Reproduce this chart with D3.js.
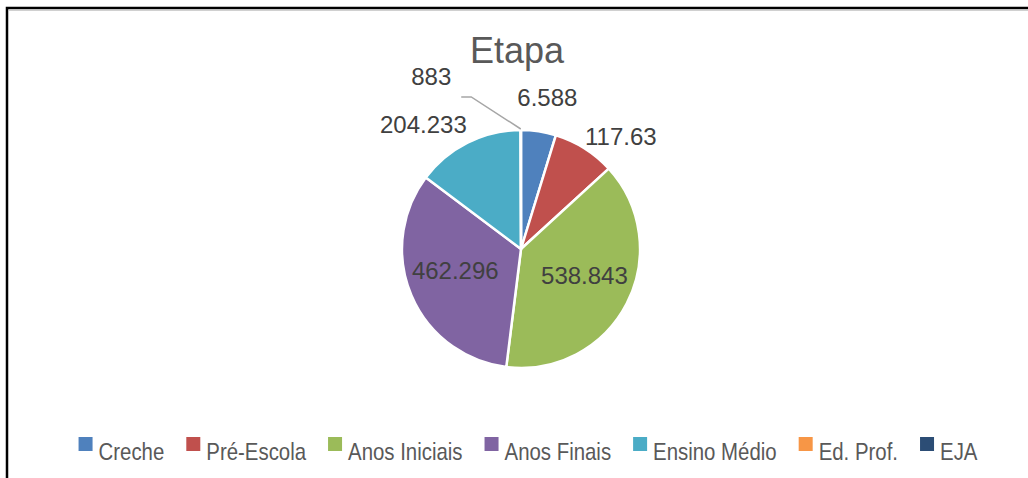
<!DOCTYPE html>
<html>
<head>
<meta charset="utf-8">
<script src="https://cdn.jsdelivr.net/npm/d3@7"></script>
<style>
  body { margin: 0; background: #fff; }
  text { font-family: "Liberation Sans", Arial, sans-serif; }
</style>
</head>
<body>
<div class="etapa"></div>
<script>
// data
var categories = ["Creche", "Pré-Escola", "Anos Iniciais", "Anos Finais", "Ensino Médio", "Ed. Prof.", "EJA"];
var values = [65880, 117630, 538843, 462296, 204233, 883, 0];
var valueLabels = ["6.588", "117.63", "538.843", "462.296", "204.233", "883", ""];
var colors = ["#4F81BD", "#C0504D", "#9BBB59", "#8064A2", "#4BACC6", "#F79646", "#2C4D75"];

var width = 1028, height = 478;
var cx = 521, cy = 249, radius = 119;

var svg = d3.select(".etapa")
    .append("svg")
    .attr("width", width)
    .attr("height", height);

// frame
svg.append("path")
    .attr("d", "M7," + height + "V8H" + width)
    .attr("fill", "none")
    .attr("stroke", "#000")
    .attr("stroke-width", 2.5);
svg.append("line")
    .attr("x1", 9).attr("x2", width).attr("y1", 10.5).attr("y2", 10.5)
    .attr("stroke", "#d0d0d0").attr("stroke-width", 1);

// title
svg.append("text")
    .attr("x", 517).attr("y", 63)
    .attr("text-anchor", "middle")
    .style("font-size", "36px")
    .style("fill", "#595959")
    .text("Etapa");

var data = categories.map(function(c, i) {
    return {name: c, value: values[i], label: valueLabels[i], color: colors[i]};
});
var total = d3.sum(values);

var pie = d3.pie().sort(null).value(function(d) { return d.value; });
var arcs = pie(data);
var arc = d3.arc().innerRadius(0).outerRadius(radius);

var g = svg.append("g").attr("transform", "translate(" + cx + "," + cy + ")");

// slices
g.selectAll("path.slice")
    .data(arcs.filter(function(d) { return d.data.value > 0; }))
    .enter().append("path")
    .attr("class", "slice")
    .attr("d", arc)
    .attr("fill", function(d) { return d.data.color; })
    .attr("stroke", "#fff")
    .attr("stroke-width", 2.5)
    .attr("stroke-linejoin", "round");

// labels
function polar(a, r) { return [Math.sin(a) * r, -Math.cos(a) * r]; }

arcs.forEach(function(d) {
    if (d.data.value <= 0) return;
    var share = d.data.value / total;
    var mid = (d.startAngle + d.endAngle) / 2;
    var t = g.append("text")
        .attr("text-anchor", "middle")
        .style("font-size", "24px")
        .style("fill", "#404040")
        .text(d.data.label);
    if (share > 0.2) {
        var p = polar(mid, radius * 0.6);
        t.attr("x", p[0]).attr("y", p[1]).attr("dy", "0.1em");
    } else if (share > 0.01) {
        var a = mid + (12 * Math.PI / 180) * Math.sin(2 * mid);
        var q = polar(a, radius * 1.3);
        t.attr("x", q[0] - 6).attr("y", q[1]).attr("dy", "0.35em");
    } else {
        // tiny slice: leader line
        var s = polar(mid, radius + 1);
        var e = polar(mid - 18 * Math.PI / 180, radius * 1.345);
        g.append("path")
            .attr("d", "M" + s[0] + "," + s[1] + "L" + e[0] + "," + e[1] + "H" + (e[0] - 10))
            .attr("fill", "none")
            .attr("stroke", "#a6a6a6")
            .attr("stroke-width", 1.5);
        t.attr("text-anchor", "end")
            .attr("x", e[0] - 20).attr("y", e[1] - 12);
    }
});

// legend (text squeezed horizontally like the original)
var squeeze = 0.85;
var legend = svg.append("g");
var items = legend.selectAll("g")
    .data(data)
    .enter().append("g");
items.append("rect")
    .attr("width", 14).attr("height", 14)
    .attr("y", 437)
    .attr("fill", function(d) { return d.color; });
items.append("text")
    .attr("transform", "translate(20,460) scale(" + squeeze + ",1)")
    .style("font-size", "24px")
    .style("fill", "#595959")
    .text(function(d) { return d.name; });

var xs = [], pos = 0;
items.each(function() {
    var w = d3.select(this).select("text").node().getComputedTextLength() * squeeze;
    xs.push(pos);
    pos += 20 + w + 22;
});
var legendW = pos - 22;
var start = 528 - legendW / 2;
items.attr("transform", function(d, i) { return "translate(" + (start + xs[i]) + ",0)"; });
</script>
</body>
</html>
